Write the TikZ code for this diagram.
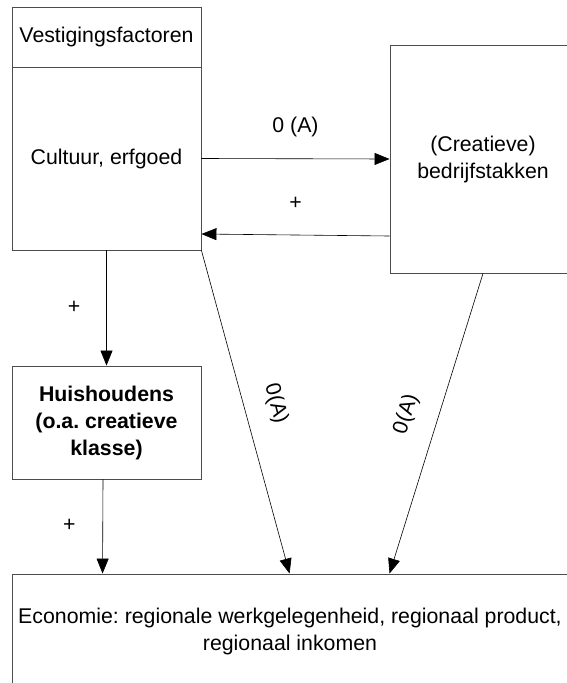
\documentclass[tikz,border=0pt]{standalone}
\usepackage{fontspec}
\setmainfont{Liberation Sans}
\frenchspacing
\usetikzlibrary{arrows.meta}
\tikzstyle{box}=[draw=black!70, line width=0.9pt, inner sep=2pt, align=center,
                font=\fontsize{21.3}{27}\selectfont]
\tikzstyle{elabel}=[inner sep=0pt, text height=15pt, text depth=4.5pt,
                font=\fontsize{21.3}{27}\selectfont]

\begin{document}
\begin{tikzpicture}[x=1pt, y=-1pt, >={Triangle[length=15pt,width=12pt]}, line width=0.6pt]
\path[use as bounding box] (0,0) rectangle (566,683);
\node[box, minimum width=189pt, minimum height=60pt] (vf) at (106.5,37) {Vestigingsfactoren};
\node[box, minimum width=189pt, minimum height=183pt] (cult) at (106.5,158.5) {Cultuur, erfgoed};
\node[box, minimum width=186pt, minimum height=228pt] (crea) at (483,159) {(Creatieve)\\bedrijfstakken};
\node[box, minimum width=189pt, minimum height=113pt, font=\fontsize{21.3}{27}\selectfont\bfseries]
  (hh) at (106.5,422.5) {Huishoudens\\(o.a. creatieve\\klasse)};
% right and bottom sides fall off the page
\node[box, minimum width=556pt, minimum height=114pt] (eco) at (290,631)
  {Economie: regionale werkgelegenheid, regionaal product,\\regionaal inkomen};
\path[->]
  (cult.east) edge node[elabel, above=21pt] {0 (A)} (crea.west)
  ([yshift=-77pt]crea.west) edge node[elabel, above=21pt] {+} ([yshift=-75.5pt]cult.east)
  (cult.south) edge node[elabel, left=26pt] {+} (hh.north)
  ([xshift=-3.5pt]hh.south) edge node[elabel, left=27pt] {+} ([xshift=91pt]eco.north west)
  (cult.south east) edge node[elabel, sloped, above=21pt] {0(A)} ([xshift=278pt]eco.north west)
  (crea.south) edge node[elabel, sloped, above=21pt] {0(A)} ([xshift=378pt]eco.north west);
\end{tikzpicture}
\end{document}
